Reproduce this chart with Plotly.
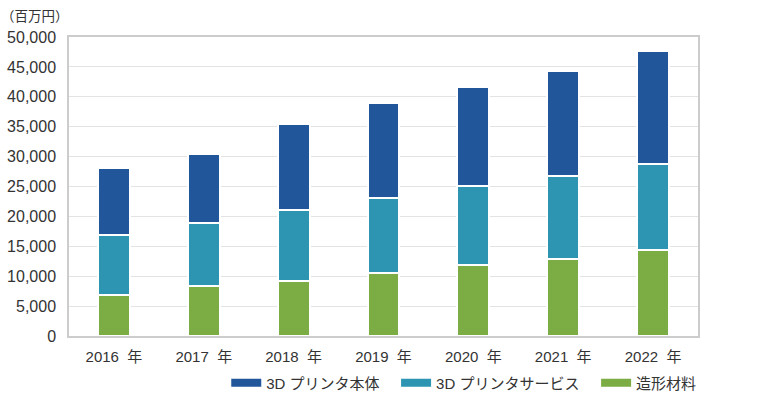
import plotly.graph_objects as go

years = ["2016\u00a0\u00a0年", "2017\u00a0\u00a0年", "2018\u00a0\u00a0年", "2019\u00a0\u00a0年",
         "2020\u00a0\u00a0年", "2021\u00a0\u00a0年", "2022\u00a0\u00a0年"]
series_names = ["3D プリンタ本体", "3D プリンタサービス", "造形材料"]
materials = [6900, 8400, 9200, 10500, 11900, 12900, 14400]
services = [10000, 10500, 11900, 12550, 13200, 13900, 14400]
printers = [11200, 11500, 14400, 15900, 16550, 17500, 18900]
colors = ["#21579a", "#2d95b2", "#7cad44"]
y_ticks = [0, 5000, 10000, 15000, 20000, 25000, 30000, 35000, 40000, 45000, 50000]

FONT = "Liberation Sans, Noto Sans CJK JP, sans-serif"

fig = go.Figure()
for name, vals, col in [(series_names[2], materials, colors[2]),
                        (series_names[1], services, colors[1]),
                        (series_names[0], printers, colors[0])]:
    fig.add_trace(go.Bar(x=years, y=vals, name=name, showlegend=False,
                         marker=dict(color=col, line=dict(color="white", width=2)),
                         width=0.356, hoverinfo="y"))

legend_ids = ["legend", "legend2", "legend3"]
legend_x = [0.25, 0.52, 0.838]
for name, col, lid in zip(series_names, colors, legend_ids):
    fig.add_trace(go.Scatter(x=[None], y=[None], mode="lines", name=name,
                             line=dict(color=col, width=8), legend=lid))

legend_common = dict(orientation="h", xanchor="left", y=-0.102, yanchor="top",
                     font=dict(size=15, color="#333333"), itemwidth=30,
                     bgcolor="rgba(0,0,0,0)")
legend_layout = {lid: dict(legend_common, x=lx) for lid, lx in zip(legend_ids, legend_x)}

fig.update_layout(
    barmode="stack",
    width=770, height=400,
    margin=dict(l=69, r=72, t=37, b=64, autoexpand=False),
    plot_bgcolor="white", paper_bgcolor="white",
    font=dict(family=FONT, color="#333333", size=15),
    annotations=[dict(text="（百万円）", xref="paper", yref="paper", x=-0.112, y=1.067,
                      xanchor="left", yanchor="middle", showarrow=False,
                      font=dict(size=13.5, color="#333333"))],
    **legend_layout,
)
fig.update_xaxes(showline=True, linecolor="#cccccc", linewidth=1.5, mirror=True,
                 tickfont=dict(size=15), ticks="outside", ticklen=6,
                 tickcolor="rgba(0,0,0,0)")
fig.update_yaxes(range=[0, 50000], tickvals=y_ticks, tickformat=",d",
                 showgrid=True, gridcolor="#e3e3e3", gridwidth=1,
                 showline=True, linecolor="#cccccc", linewidth=1.5, mirror=True,
                 zeroline=False, tickfont=dict(size=16), ticks="outside", ticklen=8,
                 tickcolor="rgba(0,0,0,0)")

fig.write_html("out.html", config={"displayModeBar": False},
               post_script="document.body.style.margin='0';")
